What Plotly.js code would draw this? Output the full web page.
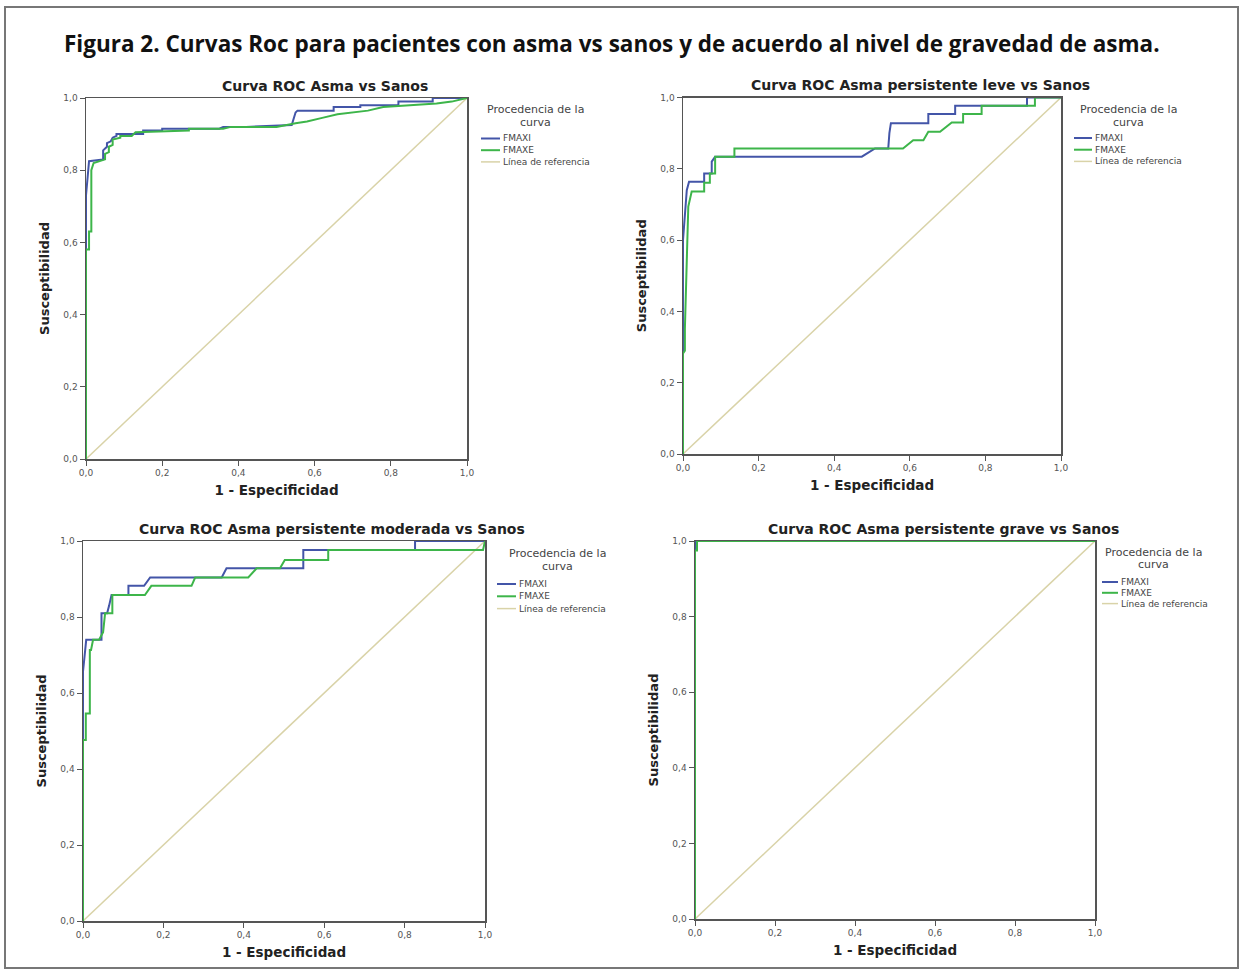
<!DOCTYPE html>
<html>
<head>
<meta charset="utf-8">
<script src="https://cdn.plot.ly/plotly-3.0.1.min.js"></script>
<style>html,body{margin:0;padding:0;background:#fff;}#chart{width:1243px;height:970px;}</style>
</head>
<body>
<div id="chart"></div>
<script>
// ---------- Data (1 - Especificidad, Susceptibilidad) ----------
// Panel 1: Asma vs Sanos
const p1_fmaxi_x = [0, 0, 0.008, 0.045, 0.045, 0.055, 0.055, 0.065, 0.07, 0.08, 0.08, 0.15, 0.15, 0.2, 0.2, 0.35, 0.36, 0.42, 0.54, 0.55, 0.555, 0.65, 0.65, 0.72, 0.72, 0.82, 0.82, 0.91, 0.91, 1.0];
const p1_fmaxi_y = [0, 0.73, 0.825, 0.83, 0.855, 0.865, 0.875, 0.88, 0.89, 0.895, 0.90, 0.90, 0.91, 0.91, 0.915, 0.915, 0.92, 0.92, 0.925, 0.96, 0.965, 0.965, 0.975, 0.975, 0.98, 0.98, 0.99, 0.99, 1.0, 1.0];
const p1_fmaxe_x = [0, 0, 0.008, 0.008, 0.014, 0.014, 0.02, 0.05, 0.05, 0.06, 0.06, 0.07, 0.07, 0.09, 0.09, 0.12, 0.13, 0.27, 0.27, 0.36, 0.38, 0.5, 0.55, 0.58, 0.62, 0.66, 0.74, 0.78, 0.92, 0.96, 1.0];
const p1_fmaxe_y = [0, 0.58, 0.58, 0.63, 0.63, 0.8, 0.82, 0.83, 0.845, 0.85, 0.865, 0.87, 0.885, 0.89, 0.895, 0.895, 0.905, 0.91, 0.915, 0.915, 0.92, 0.92, 0.93, 0.935, 0.945, 0.955, 0.965, 0.975, 0.985, 0.99, 1.0];

// Panel 2: Asma persistente leve vs Sanos
const p2_fmaxi_x = [0, 0, 0.01, 0.016, 0.056, 0.056, 0.076, 0.076, 0.085, 0.473, 0.508, 0.543, 0.546, 0.55, 0.649, 0.649, 0.72, 0.72, 0.91, 0.91, 1.0];
const p2_fmaxi_y = [0, 0.60, 0.74, 0.764, 0.764, 0.787, 0.787, 0.82, 0.834, 0.834, 0.857, 0.857, 0.90, 0.928, 0.928, 0.954, 0.954, 0.977, 0.977, 1.0, 1.0];
const p2_fmaxe_x = [0, 0, 0.005, 0.005, 0.014, 0.023, 0.056, 0.056, 0.071, 0.071, 0.085, 0.085, 0.136, 0.136, 0.582, 0.609, 0.636, 0.649, 0.68, 0.711, 0.741, 0.741, 0.79, 0.79, 0.931, 0.931, 1.0];
const p2_fmaxe_y = [0, 0.282, 0.29, 0.352, 0.694, 0.736, 0.736, 0.761, 0.761, 0.787, 0.787, 0.834, 0.834, 0.857, 0.857, 0.88, 0.88, 0.904, 0.904, 0.93, 0.93, 0.954, 0.954, 0.977, 0.977, 1.0, 1.0];

// Panel 3: Asma persistente moderada vs Sanos
const p3_fmaxi_x = [0, 0, 0.008, 0.046, 0.046, 0.06, 0.065, 0.071, 0.113, 0.113, 0.152, 0.167, 0.345, 0.357, 0.548, 0.548, 0.826, 0.826, 1.0];
const p3_fmaxi_y = [0, 0.656, 0.74, 0.74, 0.81, 0.81, 0.83, 0.858, 0.858, 0.882, 0.882, 0.904, 0.904, 0.928, 0.928, 0.976, 0.976, 1.0, 1.0];
const p3_fmaxe_x = [0, 0, 0.007, 0.007, 0.017, 0.017, 0.02, 0.025, 0.04, 0.05, 0.055, 0.073, 0.073, 0.154, 0.17, 0.27, 0.279, 0.411, 0.432, 0.49, 0.502, 0.61, 0.61, 0.995, 1.0];
const p3_fmaxe_y = [0, 0.476, 0.476, 0.546, 0.546, 0.713, 0.713, 0.74, 0.74, 0.76, 0.81, 0.81, 0.858, 0.858, 0.882, 0.882, 0.904, 0.904, 0.928, 0.928, 0.95, 0.95, 0.976, 0.976, 1.0];

// Panel 4: Asma persistente grave vs Sanos
const p4_fmaxi_x = [0, 0, 1.0];
const p4_fmaxi_y = [0, 1.0, 1.0];
const p4_fmaxe_x = [0, 0, 0.005, 0.005, 1.0];
const p4_fmaxe_y = [0, 0.975, 0.975, 1.0, 1.0];

// Reference line
const ref_x = [0, 1];
const ref_y = [0, 1];

const panelTitles = [
  "Curva ROC Asma vs Sanos",
  "Curva ROC Asma persistente leve vs Sanos",
  "Curva ROC Asma persistente moderada vs Sanos",
  "Curva ROC Asma persistente grave vs Sanos"
];
const seriesNames = ["FMAXI", "FMAXE", "Línea de referencia"];
const legendTitle = ["Procedencia de la", "curva"];
const mainTitle = "Figura 2. Curvas Roc para pacientes con asma vs sanos y de acuerdo al nivel de gravedad de asma.";
const xTitle = "1 - Especificidad";
const yTitle = "Susceptibilidad";
const tickVals = [0, 0.2, 0.4, 0.6, 0.8, 1.0];

// ---------- Build ----------
const colors = ["#4355a8", "#3db54a", "#d9d3a8"];
const panels = [
  [p1_fmaxi_x, p1_fmaxi_y, p1_fmaxe_x, p1_fmaxe_y],
  [p2_fmaxi_x, p2_fmaxi_y, p2_fmaxe_x, p2_fmaxe_y],
  [p3_fmaxi_x, p3_fmaxi_y, p3_fmaxe_x, p3_fmaxe_y],
  [p4_fmaxi_x, p4_fmaxi_y, p4_fmaxe_x, p4_fmaxe_y]
];
const W = 1243, H = 970;
// plot areas in pixels: [left, right, top, bottom]
const boxes = [
  [86, 467, 98, 459],
  [683, 1061, 97.5, 454],
  [83, 485, 541, 921],
  [695, 1095, 541, 919]
];
// legend layout in pixels: [sampleX0, sampleX1, titleCenterX, titleY1, titleY2, itemY0, itemStep]
const legendPx = [
  [481, 500, 535, 109.5, 122, 138.5, 11.7],
  [1074, 1092, 1128, 109.5, 122, 138, 11.7],
  [497, 516, 557, 553.5, 566.5, 584, 12.3],
  [1102, 1118, 1153, 552, 564.5, 582, 10.8]
];
const titleShift = 48;

const px = v => v / W, py = v => 1 - v / H;
const traces = [];
const layout = {
  width: W, height: H,
  margin: {l: 0, r: 0, t: 0, b: 0},
  paper_bgcolor: "#fff", plot_bgcolor: "#fff",
  separators: ",.",
  font: {family: "DejaVu Sans, sans-serif", color: "#333"},
  showlegend: false,
  annotations: [],
  shapes: [{
    type: "rect", xref: "paper", yref: "paper",
    x0: px(5), x1: px(1238), y0: py(968), y1: py(7),
    line: {color: "#777", width: 2}, fillcolor: "rgba(0,0,0,0)"
  }]
};

layout.annotations.push({
  text: "<b>" + mainTitle + "</b>", xref: "paper", yref: "paper",
  x: px(612), y: py(44), xanchor: "center", yanchor: "middle",
  showarrow: false, font: {family: "Open Sans, sans-serif", size: 22.5, color: "#111"}
});

panels.forEach((p, i) => {
  const n = i + 1;
  const sfx = n === 1 ? "" : String(n);
  const xa = "x" + sfx, ya = "y" + sfx;
  const series = [[p[0], p[1]], [p[2], p[3]], [ref_x, ref_y]];
  [2, 0, 1].forEach(k => {
    traces.push({
      x: series[k][0], y: series[k][1], mode: "lines", type: "scatter",
      name: seriesNames[k], xaxis: xa, yaxis: ya,
      line: {color: colors[k], width: k === 2 ? 1.5 : 2},
      hoverinfo: "skip"
    });
  });
  const b = boxes[i];
  const axBase = {
    range: [0, 1], tickvals: tickVals, tickformat: ".1f",
    showgrid: false, zeroline: false, showline: true, mirror: true,
    linecolor: "#555", linewidth: 1.5, ticks: "outside", ticklen: 5,
    tickcolor: "#555", tickfont: {size: 9, color: "#555"}, fixedrange: true
  };
  layout["xaxis" + sfx] = Object.assign({}, axBase, {
    domain: [px(b[0]), px(b[1])], anchor: ya,
    title: {text: "<b>" + xTitle + "</b>", font: {size: 13.5, color: "#222"}, standoff: 8}
  });
  layout["yaxis" + sfx] = Object.assign({}, axBase, {
    domain: [py(b[3]), py(b[2])], anchor: xa,
    title: {text: "<b>" + yTitle + "</b>", font: {size: 13, color: "#222"}, standoff: 11}
  });
  layout.annotations.push({
    text: "<b>" + panelTitles[i] + "</b>", xref: "paper", yref: "paper",
    x: px((b[0] + b[1]) / 2 + titleShift), y: py(b[2] - 2), xanchor: "center", yanchor: "bottom",
    showarrow: false, font: {size: 14, color: "#222"}
  });
  // legend drawn as shapes + annotations
  const L = legendPx[i];
  layout.annotations.push({
    text: legendTitle[0], xref: "paper", yref: "paper", x: px(L[2]), y: py(L[3]),
    xanchor: "center", yanchor: "middle", showarrow: false, font: {size: 11, color: "#444"}
  });
  layout.annotations.push({
    text: legendTitle[1], xref: "paper", yref: "paper", x: px(L[2]), y: py(L[4]),
    xanchor: "center", yanchor: "middle", showarrow: false, font: {size: 11, color: "#444"}
  });
  [0, 1, 2].forEach(k => {
    const yy = L[5] + k * L[6];
    layout.shapes.push({
      type: "line", xref: "paper", yref: "paper", x0: px(L[0]), x1: px(L[1]), y0: py(yy), y1: py(yy),
      line: {color: colors[k], width: k === 2 ? 1.5 : 2}
    });
    layout.annotations.push({
      text: seriesNames[k], xref: "paper", yref: "paper", x: px(L[1] + 1), y: py(yy),
      xanchor: "left", yanchor: "middle", showarrow: false, font: {size: 9, color: "#444"}
    });
  });
});

Plotly.newPlot("chart", traces, layout, {staticPlot: true});
</script>
</body>
</html>
